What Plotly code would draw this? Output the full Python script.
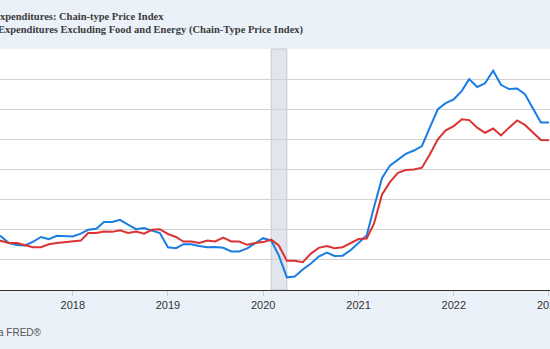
import pandas as pd
import plotly.graph_objects as go

# Monthly observations, Mar 2017 .. Jan 2023 (percent change from year ago)
start_month = "2017-03-01"
pce_headline = [
    1.88, 1.78, 1.56, 1.49, 1.48, 1.60, 1.76, 1.69, 1.80, 1.78,
    1.78, 1.87, 2.00, 2.03, 2.26, 2.26, 2.33, 2.17, 2.02, 2.06, 1.97, 1.89,
    1.42, 1.39, 1.52, 1.52, 1.46, 1.42, 1.43, 1.40, 1.28, 1.28, 1.38, 1.56,
    1.72, 1.64, 1.15, 0.42, 0.45, 0.68, 0.87, 1.11, 1.24, 1.13, 1.14, 1.32,
    1.56, 1.81, 2.75, 3.72, 4.13, 4.33, 4.52, 4.63, 4.78, 5.39, 6.00, 6.20,
    6.33, 6.61, 7.00, 6.74, 6.86, 7.28, 6.81, 6.67, 6.69, 6.50, 6.02, 5.56,
    5.56,
]
pce_core = [
    1.70, 1.63, 1.56, 1.56, 1.50, 1.42, 1.42, 1.52, 1.56, 1.58,
    1.61, 1.64, 1.89, 1.89, 1.94, 1.93, 1.98, 1.89, 1.94, 1.87, 2.00, 2.02,
    1.86, 1.76, 1.61, 1.61, 1.56, 1.64, 1.61, 1.74, 1.61, 1.61, 1.50, 1.56,
    1.59, 1.67, 1.48, 0.97, 0.97, 0.92, 1.20, 1.40, 1.46, 1.39, 1.42, 1.55,
    1.69, 1.71, 2.20, 3.17, 3.58, 3.89, 3.98, 4.00, 4.06, 4.50, 5.00, 5.30,
    5.44, 5.67, 5.64, 5.39, 5.22, 5.36, 5.13, 5.39, 5.63, 5.48, 5.22, 4.98,
    4.97,
]
series_names = [
    "Personal Consumption Expenditures: Chain-type Price Index",
    "Personal Consumption Expenditures Excluding Food and Energy (Chain-Type Price Index)",
]
year_ticks = ["2018-01-01", "2019-01-01", "2020-01-01", "2021-01-01", "2022-01-01", "2023-01-01"]
year_labels = ["2018", "2019", "2020", "2021", "2022", "2023"]
recession = ("2020-02-01", "2020-04-01")
source_text = "Source: U.S. Bureau of Economic Analysis via FRED®"

dates = pd.date_range(start_month, periods=len(pce_headline), freq="MS")

fig = go.Figure()
fig.add_trace(go.Scatter(x=dates, y=pce_headline, mode="lines",
                         line=dict(color="#1b7de1", width=2), name=series_names[0]))
fig.add_trace(go.Scatter(x=dates, y=pce_core, mode="lines",
                         line=dict(color="#db3333", width=2), name=series_names[1]))

fig.add_shape(type="rect", xref="x", yref="paper", x0=recession[0], x1=recession[1],
              y0=0, y1=1, fillcolor="#e1e6ee", line=dict(color="#c6c9ce", width=1),
              layer="below")

title_font = dict(family="Liberation Serif, Times New Roman, serif", size=10.5, color="#3c3c3c")
fig.add_annotation(text="<b>" + series_names[0] + "</b>", xref="paper", yref="paper",
                   x=166 / 550, y=1 + (49 - 16) / 241, xanchor="right", yanchor="middle",
                   showarrow=False, font=title_font)
fig.add_annotation(text="<b>" + series_names[1] + "</b>", xref="paper", yref="paper",
                   x=306 / 550, y=1 + (49 - 30) / 241, xanchor="right", yanchor="middle",
                   showarrow=False, font=title_font)
fig.add_annotation(text=source_text, xref="paper", yref="paper",
                   x=44 / 550, y=-(332 - 290) / 241, xanchor="right", yanchor="middle",
                   showarrow=False,
                   font=dict(family="Liberation Sans, Arial, sans-serif", size=10, color="#555555"))

tick_font = dict(family="Liberation Sans, Arial, sans-serif", size=11, color="#333333")
# last year label sits at the clipped right edge; draw it as an annotation at its tick
fig.add_annotation(text=year_labels[-1], xref="x", yref="paper", x=year_ticks[-1],
                   y=-(305 - 290) / 241, xanchor="center", yanchor="middle",
                   showarrow=False, font=tick_font)

fig.update_layout(
    width=550, height=349,
    margin=dict(l=0, r=0, t=49, b=59),
    paper_bgcolor="#eaf1f8",
    plot_bgcolor="#ffffff",
    showlegend=False,
    xaxis=dict(
        type="date",
        range=["2017-03-28", "2023-01-05"],
        tickvals=year_ticks, ticktext=year_labels,
        ticks="outside", ticklen=5, tickcolor="#cccccc",
        showgrid=False, zeroline=False,
        showline=True, linecolor="#333333", linewidth=1,
        tickfont=tick_font,
    ),
    yaxis=dict(
        range=[0, 8], dtick=1, tick0=0,
        showticklabels=False, ticks="",
        showgrid=True, gridcolor="#d2d2d2", gridwidth=1,
        zeroline=False, showline=False,
    ),
)

fig.write_html("out.html")
